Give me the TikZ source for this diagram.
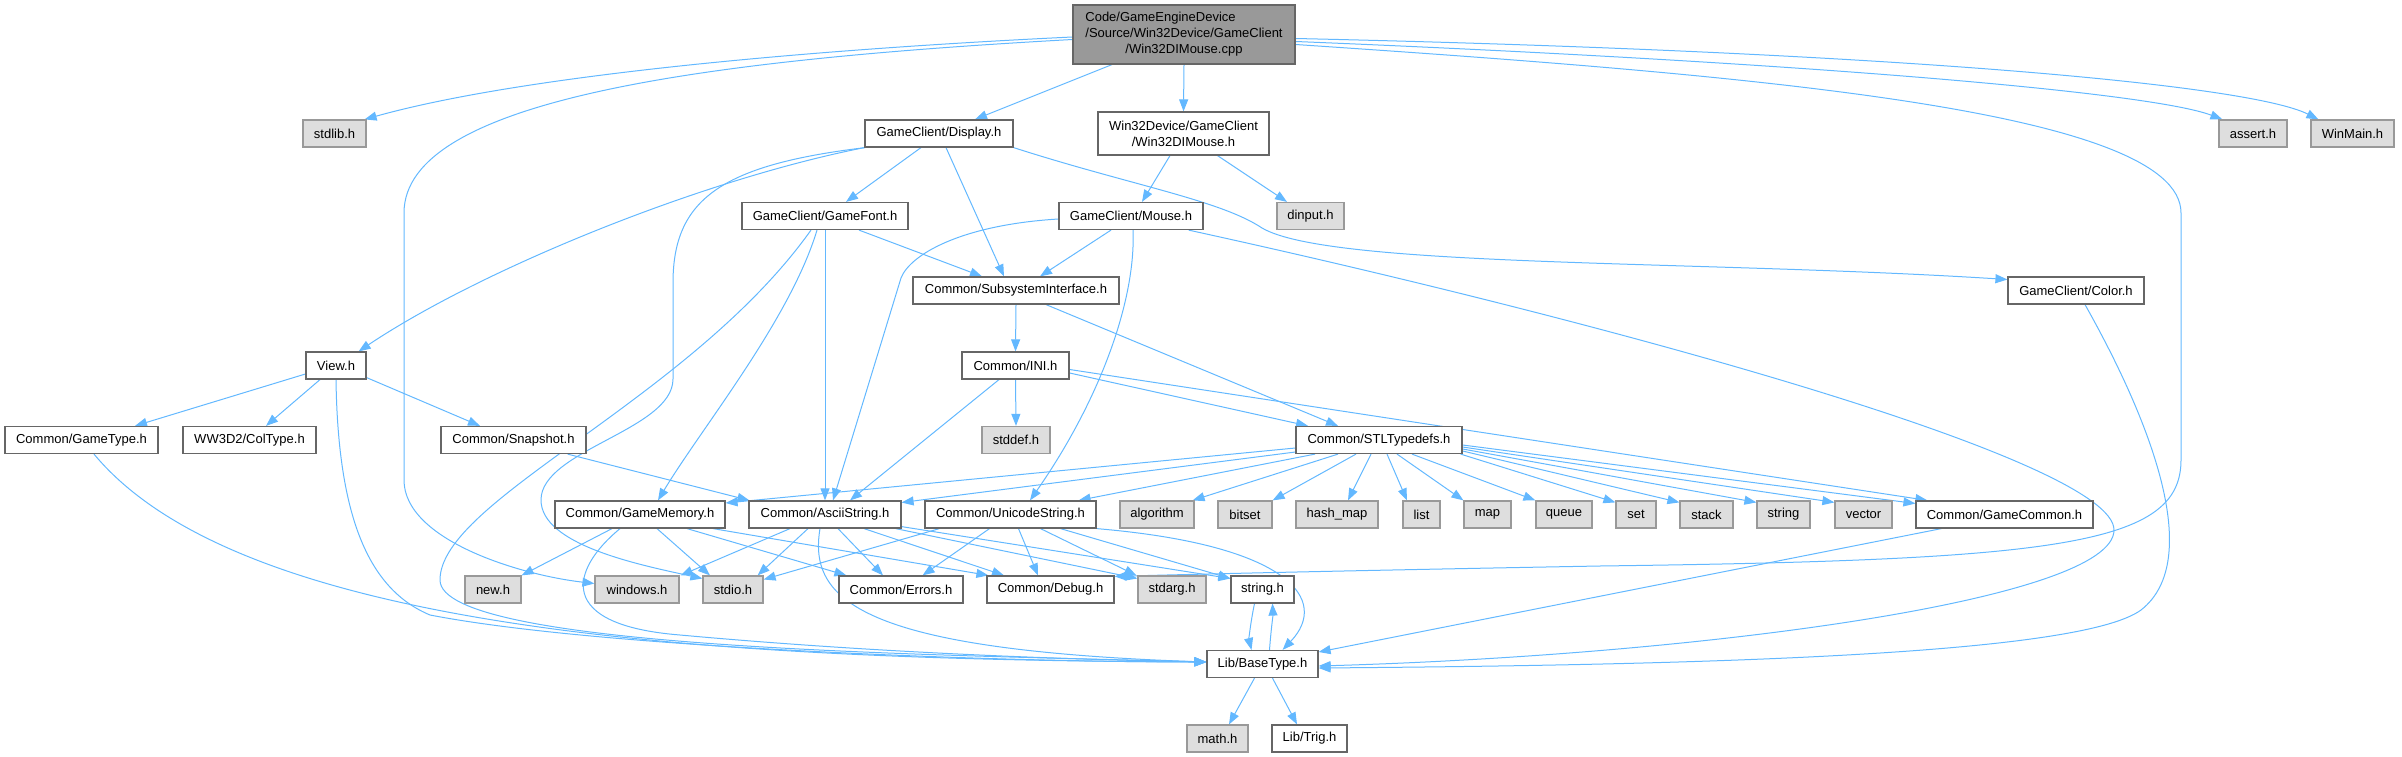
\documentclass[tikz,border=0pt]{standalone}
\usepackage{fontspec}
\setmainfont{Liberation Sans}
\usetikzlibrary{arrows.meta,calc}
\definecolor{edgec}{HTML}{63B8FF}
\definecolor{gfour}{HTML}{666666}
\definecolor{gsix}{HTML}{999999}
\definecolor{geight}{HTML}{DEDEDE}
\pgfdeclarelayer{bg}
\pgfsetlayers{bg,main}
\begin{document}
\begin{tikzpicture}[x=1pt,y=-1pt,
 hdr/.style={draw=gfour, fill=white, line width=1.2pt, minimum height=27pt, inner sep=0pt, font=\fontsize{13}{16}\selectfont},
 sysh/.style={hdr, draw=gsix, fill=geight},
 rooth/.style={hdr, draw=gfour, fill=gsix},
 dep/.style={draw=edgec, line width=1pt, -{Triangle[length=12pt,width=9pt]}}]
\useasboundingbox (0,0) rectangle (2402,757);
% row 0
\node[rooth, minimum width=222pt, minimum height=59pt] (main) at (1184,34.5) {\begin{tabular}{@{}l@{}}Code/GameEngineDevice\\/Source/Win32Device/GameClient\\\multicolumn{1}{@{}c@{}}{/Win32DIMouse.cpp}\end{tabular}};
% row 1
\node[sysh, minimum width=63pt] (stdlib) at (334.5,133.5) {stdlib.h};
\node[hdr, minimum width=148pt] (display) at (939,133.5) {GameClient/Display.h};
\node[hdr, minimum width=171pt, minimum height=43pt, align=center] (w32) at (1183.5,133.5) {Win32Device/GameClient\\/Win32DIMouse.h};
\node[sysh, minimum width=68pt] (assert) at (2253,133.5) {assert.h};
\node[sysh, minimum width=83pt] (winmain) at (2352.5,133.5) {WinMain.h};
% row 2
\node[hdr, minimum width=166pt] (gamefont) at (825,216) {GameClient/GameFont.h};
\node[hdr, minimum width=144pt] (mouse) at (1131,216) {GameClient/Mouse.h};
\node[sysh, minimum width=67pt] (dinput) at (1310.5,216) {dinput.h};
% row 3
\node[hdr, minimum width=206pt] (subsys) at (1016,290.5) {Common/SubsystemInterface.h};
\node[hdr, minimum width=136pt] (color) at (2076,290.5) {GameClient/Color.h};
% row 4
\node[hdr, minimum width=60pt] (view) at (336,365.5) {View.h};
\node[hdr, minimum width=107pt] (ini) at (1015.5,365.5) {Common/INI.h};
% row 5
\node[hdr, minimum width=153pt] (gametype) at (81.5,440) {Common/GameType.h};
\node[hdr, minimum width=133pt] (coltype) at (249.5,440) {WW3D2/ColType.h};
\node[hdr, minimum width=145pt] (snapshot) at (513.5,440) {Common/Snapshot.h};
\node[sysh, minimum width=68pt] (stddef) at (1016,440) {stddef.h};
\node[hdr, minimum width=166pt] (stl) at (1379,440) {Common/STLTypedefs.h};
% row 6
\node[hdr, minimum width=170pt] (gamememory) at (640,514.5) {Common/GameMemory.h};
\node[hdr, minimum width=152pt] (ascii) at (825,514.5) {Common/AsciiString.h};
\node[hdr, minimum width=171pt] (unicode) at (1010.5,514.5) {Common/UnicodeString.h};
\node[sysh, minimum width=74pt] (algorithm) at (1157,514.5) {algorithm};
\node[sysh, minimum width=54pt] (bitset) at (1245,514.5) {bitset};
\node[sysh, minimum width=82pt] (hmap) at (1337,514.5) {hash\_map};
\node[sysh, minimum width=37pt] (list) at (1421.5,514.5) {list};
\node[sysh, minimum width=47pt] (map) at (1487.5,514.5) {map};
\node[sysh, minimum width=56pt] (queue) at (1564,514.5) {queue};
\node[sysh, minimum width=40pt] (set) at (1636,514.5) {set};
\node[sysh, minimum width=53pt] (stack) at (1706.5,514.5) {stack};
\node[sysh, minimum width=53pt] (string) at (1783.5,514.5) {string};
\node[sysh, minimum width=57pt] (vector) at (1863.5,514.5) {vector};
\node[hdr, minimum width=177pt] (gamecommon) at (2004.5,514.5) {Common/GameCommon.h};
% row 7
\node[sysh, minimum width=56pt] (newh) at (493,589.5) {new.h};
\node[sysh, minimum width=84pt] (windows) at (637,589.5) {windows.h};
\node[sysh, minimum width=60pt] (stdio) at (733,589.5) {stdio.h};
\node[hdr, minimum width=124pt] (errors) at (901,589.5) {Common/Errors.h};
\node[hdr, minimum width=127pt] (debug) at (1050.5,589.5) {Common/Debug.h};
\node[sysh, minimum width=68pt] (stdarg) at (1172,589.5) {stdarg.h};
\node[hdr, minimum width=63pt] (stringh) at (1262.5,589.5) {string.h};
% row 8, 9
\node[hdr, minimum width=111pt] (basetype) at (1262.5,664) {Lib/BaseType.h};
\node[sysh, minimum width=61pt] (math) at (1217.5,738.5) {math.h};
\node[hdr, minimum width=75pt] (trig) at (1309.5,738.5) {Lib/Trig.h};

\begin{pgfonlayer}{bg}
% main
\draw[dep] ($(main.west)+(0,2.5)$) .. controls (800,50) and (520,76) .. ($(stdlib.north east)+(-2,0)$);
\draw[dep] ($(main.west)+(0,5)$) .. controls (700,60) and (404,100) .. (404,213) -- (404,480) .. controls (404,540) and (520,575) .. ($(windows.west)+(0,-6)$);
\draw[dep] ($(main.south)+(-72,0)$) -- ($(display.north)+(36,0)$);
\draw[dep] (main.south) -- (w32.north);
\draw[dep] ($(main.east)+(0,7)$) .. controls (1800,62) and (2150,92) .. ($(assert.north west)+(4,0)$);
\draw[dep] ($(main.east)+(0,4)$) .. controls (1900,52) and (2250,85) .. ($(winmain.north west)+(8,0)$);
\draw[dep] ($(main.east)+(0,10)$) .. controls (1750,75) and (2181,110) .. (2181,213) -- (2181,460) .. controls (2181,545) and (2060,560) .. (1600,566) .. controls (1380,570) and (1200,574) .. ($(debug.north east)+(0,1)$);
% display
\draw[dep] (display.south west) .. controls (700,180) and (480,270) .. ($(view.north east)+(-8,0)$);
\draw[dep] ($(display.south west)+(1,0)$) .. controls (720,165) and (673,200) .. (673,283) -- (673,379) .. controls (673,430) and (541,450) .. (541,500) .. controls (541,545) and (640,565) .. ($(stdio.west)+(0,-11)$);
\draw[dep] ($(display.south)+(-18,0)$) -- ($(gamefont.north)+(21,0)$);
\draw[dep] ($(display.south)+(7,0)$) -- ($(subsys.north)+(-12,0)$);
\draw[dep] (display.south east) .. controls (1130,185) and (1220,200) .. (1262,228) .. controls (1330,268) and (1700,260) .. ($(color.west)+(0,-11)$);
% w32
\draw[dep] ($(w32.south)+(-13.5,0)$) -- ($(mouse.north)+(11,0)$);
\draw[dep] ($(w32.south)+(34,0)$) -- ($(dinput.north)+(-23.5,0)$);
% gamefont
\draw[dep] (gamefont.south) -- (ascii.north);
\draw[dep] ($(gamefont.south)+(-8,0)$) .. controls (790,320) and (700,430) .. ($(gamememory.north)+(18,0)$);
\draw[dep] ($(gamefont.south)+(-14,0)$) .. controls (690,400) and (440,500) .. (440,580) .. controls (440,650) and (950,655) .. ($(basetype.west)+(0,-2)$);
\draw[dep] ($(gamefont.south)+(34,0)$) -- ($(subsys.north)+(-34,0)$);
% mouse
\draw[dep] ($(mouse.west)+(0,3)$) .. controls (960,225) and (910,255) .. (901,278) -- ($(ascii.north)+(8,0)$);
\draw[dep] ($(mouse.south)+(-20,0)$) -- ($(subsys.north)+(24,0)$);
\draw[dep] ($(mouse.south)+(2,0)$) .. controls (1136,300) and (1100,400) .. ($(unicode.north)+(19.5,0)$);
\draw[dep] ($(mouse.south east)+(-15,0)$) .. controls (1600,320) and (2114,460) .. (2114,530) .. controls (2114,600) and (1700,655) .. ($(basetype.east)+(0,2)$);
% subsystem
\draw[dep] (subsys.south) -- (ini.north);
\draw[dep] ($(subsys.south)+(30,0)$) -- ($(stl.north)+(-41,0)$);
% color
\draw[dep] ($(color.south)+(9,0)$) .. controls (2150,420) and (2205,560) .. (2141,610) .. controls (2080,655) and (1700,665) .. ($(basetype.east)+(0,4)$);
% view
\draw[dep] ($(view.west)+(0,8.5)$) -- ($(gametype.north)+(53.5,0)$);
\draw[dep] ($(view.south)+(-16,0)$) -- ($(coltype.north)+(16.5,0)$);
\draw[dep] ($(view.south east)+(0,-2)$) -- ($(snapshot.north)+(-33.5,0)$);
\draw[dep] (view.south) .. controls (338,520) and (370,590) .. (430,615) .. controls (600,648) and (1000,662) .. ($(basetype.west)+(0,-2)$);
% ini
\draw[dep] (ini.south) -- (stddef.north);
\draw[dep] ($(ini.east)+(0,7.5)$) -- ($(stl.north)+(-71,0)$);
\draw[dep] ($(ini.south)+(-16.5,0)$) -- ($(ascii.north)+(25,0)$);
\draw[dep] ($(ini.east)+(0,4)$) -- ($(gamecommon.north west)+(12,0)$);
% gametype, snapshot
\draw[dep] ($(gametype.south)+(12.5,0)$) .. controls (240,630) and (700,660) .. ($(basetype.west)+(0,-2)$);
\draw[dep] ($(snapshot.south east)+(-19,0)$) -- ($(ascii.north west)+(1,0)$);
% stl
\draw[dep] ($(stl.west)+(0,8)$) -- ($(gamememory.east)+(0,-11.5)$);
\draw[dep] ($(stl.west)+(0,12)$) -- ($(ascii.east)+(0,-12)$);
\draw[dep] ($(stl.south)+(-64,0)$) -- ($(unicode.north east)+(-18,0)$);
\draw[dep] ($(stl.south)+(-41,0)$) -- ($(algorithm.north east)+(-2,0)$);
\draw[dep] ($(stl.south)+(-23,0)$) -- (bitset.north east);
\draw[dep] ($(stl.south)+(-8,0)$) -- ($(hmap.north)+(11,0)$);
\draw[dep] ($(stl.south)+(8,0)$) -- ($(list.north)+(-14.5,0)$);
\draw[dep] ($(stl.south)+(18,0)$) -- (map.north west);
\draw[dep] ($(stl.south)+(33,0)$) -- (queue.north west);
\draw[dep] ($(stl.south east)+(-2,0)$) -- ($(set.north west)+(0,2)$);
\draw[dep] ($(stl.east)+(0,11)$) -- ($(stack.north west)+(0,2)$);
\draw[dep] ($(stl.east)+(0,9)$) -- ($(string.north west)+(0,2)$);
\draw[dep] ($(stl.east)+(0,7)$) -- ($(vector.north west)+(0,2)$);
\draw[dep] ($(stl.east)+(0,5)$) -- ($(gamecommon.west)+(0,-11)$);
% gamememory
\draw[dep] ($(gamememory.south)+(-28,0)$) -- (newh.north east);
\draw[dep] ($(gamememory.south)+(-20,0)$) .. controls (570,570) and (555,625) .. (680,635) .. controls (900,655) and (1100,660) .. ($(basetype.west)+(0,-2)$);
\draw[dep] ($(gamememory.south)+(17,0)$) -- ($(stdio.north)+(-23,0)$);
\draw[dep] ($(gamememory.south)+(47,0)$) -- ($(errors.north west)+(8,0)$);
\draw[dep] ($(gamememory.south)+(73,0)$) -- ($(debug.north west)+(2,0)$);
% ascii
\draw[dep] ($(ascii.south)+(-35,0)$) -- ($(windows.north east)+(1,0)$);
\draw[dep] ($(ascii.south)+(-17,0)$) -- ($(stdio.north east)+(-6,0)$);
\draw[dep] ($(ascii.south)+(-5,0)$) .. controls (808,600) and (860,650) .. ($(basetype.west)+(0,-2)$);
\draw[dep] ($(ascii.south)+(13,0)$) -- ($(errors.north)+(-18,0)$);
\draw[dep] ($(ascii.south)+(39,0)$) -- ($(debug.north)+(-46.5,0)$);
\draw[dep] ($(ascii.south east)+(-6,0)$) -- ($(stdarg.west)+(0,-11)$);
\draw[dep] ($(ascii.south east)+(0,-2)$) -- ($(stringh.west)+(0,-11)$);
% unicode
\draw[dep] ($(unicode.south west)+(15,0)$) -- ($(stdio.east)+(0,-10)$);
\draw[dep] ($(unicode.south)+(-21,0)$) -- ($(errors.north east)+(-41,0)$);
\draw[dep] ($(unicode.south)+(8,0)$) -- ($(debug.north)+(-12.5,0)$);
\draw[dep] ($(unicode.south)+(30,0)$) -- ($(stdarg.north west)+(-1,0)$);
\draw[dep] ($(unicode.south)+(50,0)$) -- ($(stringh.west)+(0,-11)$);
\draw[dep] (unicode.south east) .. controls (1290,545) and (1330,600) .. ($(basetype.north east)+(-36,0)$);
% gamecommon
\draw[dep] ($(gamecommon.south west)+(26,0)$) -- ($(basetype.east)+(0,-12)$);
% string.h / basetype
\draw[dep] ($(stringh.south)+(-8,0)$) .. controls (1250,625) and (1249,640) .. ($(basetype.north)+(-11,0)$);
\draw[dep] ($(basetype.north)+(7,0)$) .. controls (1271,630) and (1273,615) .. ($(stringh.south)+(10,0)$);
\draw[dep] ($(basetype.south)+(-8,0)$) -- ($(math.north)+(11.5,0)$);
\draw[dep] ($(basetype.south)+(10,0)$) -- ($(trig.north)+(-12.5,0)$);
\end{pgfonlayer}
\end{tikzpicture}
\end{document}
